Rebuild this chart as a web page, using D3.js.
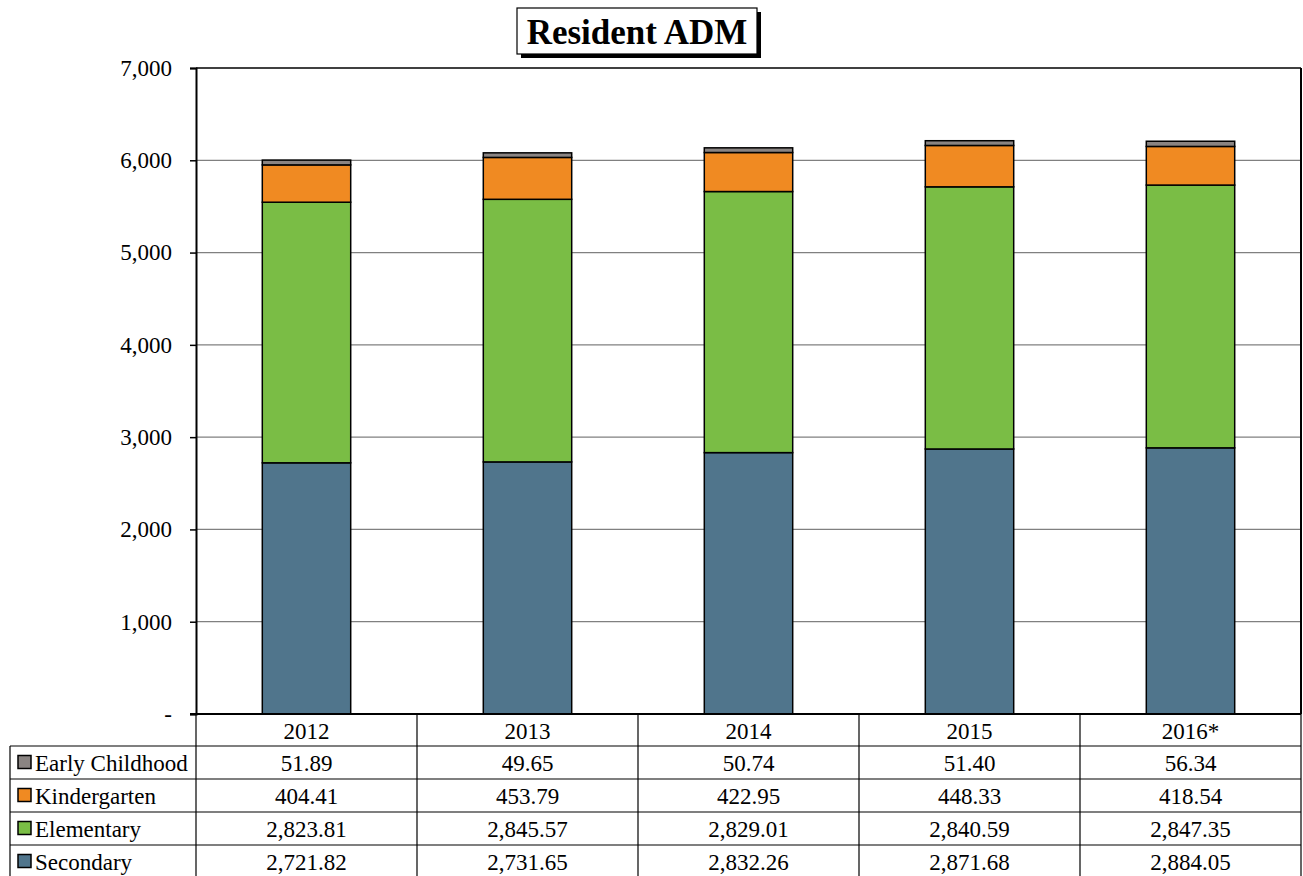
<!DOCTYPE html>
<html lang="en">
<head>
    <meta charset="UTF-8">
    <script src="https://d3js.org/d3.v7.min.js"></script>
    <title>Resident ADM</title>
    <style>
        body { margin: 0; background: white; }
        text { font-family: "Liberation Serif", "Times New Roman", serif; fill: black; }
    </style>
</head>
<body>
<script>
    // data
    var years = ["2012", "2013", "2014", "2015", "2016*"];
    var seriesNames = ["Secondary", "Elementary", "Kindergarten", "Early Childhood"];
    var secondary = [2721.82, 2731.65, 2832.26, 2871.68, 2884.05];
    var elementary = [2823.81, 2845.57, 2829.01, 2840.59, 2847.35];
    var kindergarten = [404.41, 453.79, 422.95, 448.33, 418.54];
    var earlyChildhood = [51.89, 49.65, 50.74, 51.40, 56.34];
    var yTicks = [0, 1000, 2000, 3000, 4000, 5000, 6000, 7000];

    var colors = {
        "Secondary": "#50758c",
        "Elementary": "#7abd45",
        "Kindergarten": "#f08a22",
        "Early Childhood": "#8a8482"
    };

    var canvasWidth = 1303;
    var canvasHeight = 876;
    var svg = d3.select("body").append("svg")
        .attr("width", canvasWidth)
        .attr("height", canvasHeight);

    var plotLeft = 196, plotRight = 1301, plotTop = 68, plotBottom = 714;
    var rowH = 33;
    var fontSize = 23;

    var rows = years.map(function(y, i) {
        return {year: y, "Secondary": secondary[i], "Elementary": elementary[i],
            "Kindergarten": kindergarten[i], "Early Childhood": earlyChildhood[i]};
    });
    var stacked = d3.stack().keys(seriesNames)(rows);

    var xScale = d3.scaleBand().domain(years).range([plotLeft, plotRight])
        .paddingInner(0.6).paddingOuter(0.3);
    var yScale = d3.scaleLinear().domain([0, 7000]).range([plotBottom, plotTop]);
    var fmt = d3.format(",.2f");

    // gridlines
    svg.append("g").selectAll("line").data(yTicks.slice(1, -1)).enter().append("line")
        .attr("x1", plotLeft).attr("x2", plotRight)
        .attr("y1", function(d) { return yScale(d); })
        .attr("y2", function(d) { return yScale(d); })
        .attr("stroke", "#808080").attr("stroke-width", 1.2);

    // bars
    svg.append("g").selectAll("g").data(stacked).enter().append("g")
        .attr("fill", function(d) { return colors[d.key]; })
        .selectAll("rect").data(function(d) { return d; }).enter().append("rect")
        .attr("x", function(d) { return xScale(d.data.year); })
        .attr("y", function(d) { return yScale(d[1]); })
        .attr("width", xScale.bandwidth())
        .attr("height", function(d) { return yScale(d[0]) - yScale(d[1]); })
        .attr("stroke", "black").attr("stroke-width", 1.5);

    // frame
    svg.append("line").attr("x1", plotLeft).attr("x2", plotRight).attr("y1", plotTop).attr("y2", plotTop)
        .attr("stroke", "black").attr("stroke-width", 1.5);
    svg.append("line").attr("x1", plotRight).attr("x2", plotRight).attr("y1", plotTop).attr("y2", plotBottom)
        .attr("stroke", "black").attr("stroke-width", 2);

    // y axis
    var yAxis = svg.append("g")
        .attr("transform", "translate(" + plotLeft + ",0)")
        .call(d3.axisLeft(yScale).tickValues(yTicks).tickSize(6).tickPadding(18)
            .tickFormat(function(d) { return d === 0 ? "-" : d3.format(",")(d); }));
    yAxis.select(".domain").attr("stroke", "black").attr("stroke-width", 2);
    yAxis.selectAll(".tick line").attr("stroke", "black").attr("stroke-width", 1.5);
    yAxis.selectAll(".tick text")
        .attr("font-family", "Liberation Serif").attr("font-size", fontSize).attr("fill", "black");

    // x axis line
    svg.append("line").attr("x1", plotLeft - 6).attr("x2", plotRight).attr("y1", plotBottom).attr("y2", plotBottom)
        .attr("stroke", "black").attr("stroke-width", 2);

    // data table
    var table = svg.append("g");
    var colStep = xScale.step();
    var tableBottom = plotBottom + rowH * 5 + 2;
    d3.range(years.length + 1).forEach(function(i) {
        table.append("line")
            .attr("x1", plotLeft + i * colStep).attr("x2", plotLeft + i * colStep)
            .attr("y1", plotBottom).attr("y2", tableBottom)
            .attr("stroke", "black").attr("stroke-width", 1.2);
    });
    d3.range(1, 6).forEach(function(r) {
        table.append("line")
            .attr("x1", 10).attr("x2", plotRight)
            .attr("y1", plotBottom + r * rowH - 1).attr("y2", plotBottom + r * rowH - 1)
            .attr("stroke", "black").attr("stroke-width", 1.2);
    });
    table.append("line").attr("x1", 10).attr("x2", 10)
        .attr("y1", plotBottom + rowH - 1).attr("y2", tableBottom)
        .attr("stroke", "black").attr("stroke-width", 1.2);

    // header years
    table.selectAll(".yr").data(years).enter().append("text")
        .attr("x", function(d) { return xScale(d) + xScale.bandwidth() / 2; })
        .attr("y", plotBottom + rowH / 2 + 8)
        .attr("text-anchor", "middle").attr("font-size", fontSize)
        .text(function(d) { return d; });

    var tableOrder = ["Early Childhood", "Kindergarten", "Elementary", "Secondary"];
    var tableData = {
        "Early Childhood": earlyChildhood, "Kindergarten": kindergarten,
        "Elementary": elementary, "Secondary": secondary
    };
    tableOrder.forEach(function(name, r) {
        var cy = plotBottom + (r + 1) * rowH + rowH / 2 - 1;
        table.append("rect")
            .attr("x", 18).attr("y", cy - 7).attr("width", 13).attr("height", 13)
            .attr("fill", colors[name]).attr("stroke", "black").attr("stroke-width", 1.5);
        table.append("text").attr("x", 35).attr("y", cy + 8)
            .attr("font-size", fontSize).text(name);
        table.selectAll(".v" + r).data(tableData[name]).enter().append("text")
            .attr("x", function(d, i) { return xScale(years[i]) + xScale.bandwidth() / 2; })
            .attr("y", cy + 8)
            .attr("text-anchor", "middle").attr("font-size", fontSize)
            .text(function(d) { return fmt(d); });
    });

    // title box with shadow
    var title = svg.append("g");
    title.append("rect").attr("x", 521).attr("y", 12).attr("width", 240).attr("height", 46)
        .attr("fill", "black");
    title.append("rect").attr("x", 517).attr("y", 8).attr("width", 240).attr("height", 46)
        .attr("fill", "white").attr("stroke", "black").attr("stroke-width", 1.2);
    title.append("text").attr("x", 637).attr("y", 44)
        .attr("text-anchor", "middle").attr("font-size", 35).attr("font-weight", "bold")
        .text("Resident ADM");
</script>
</body>
</html>
